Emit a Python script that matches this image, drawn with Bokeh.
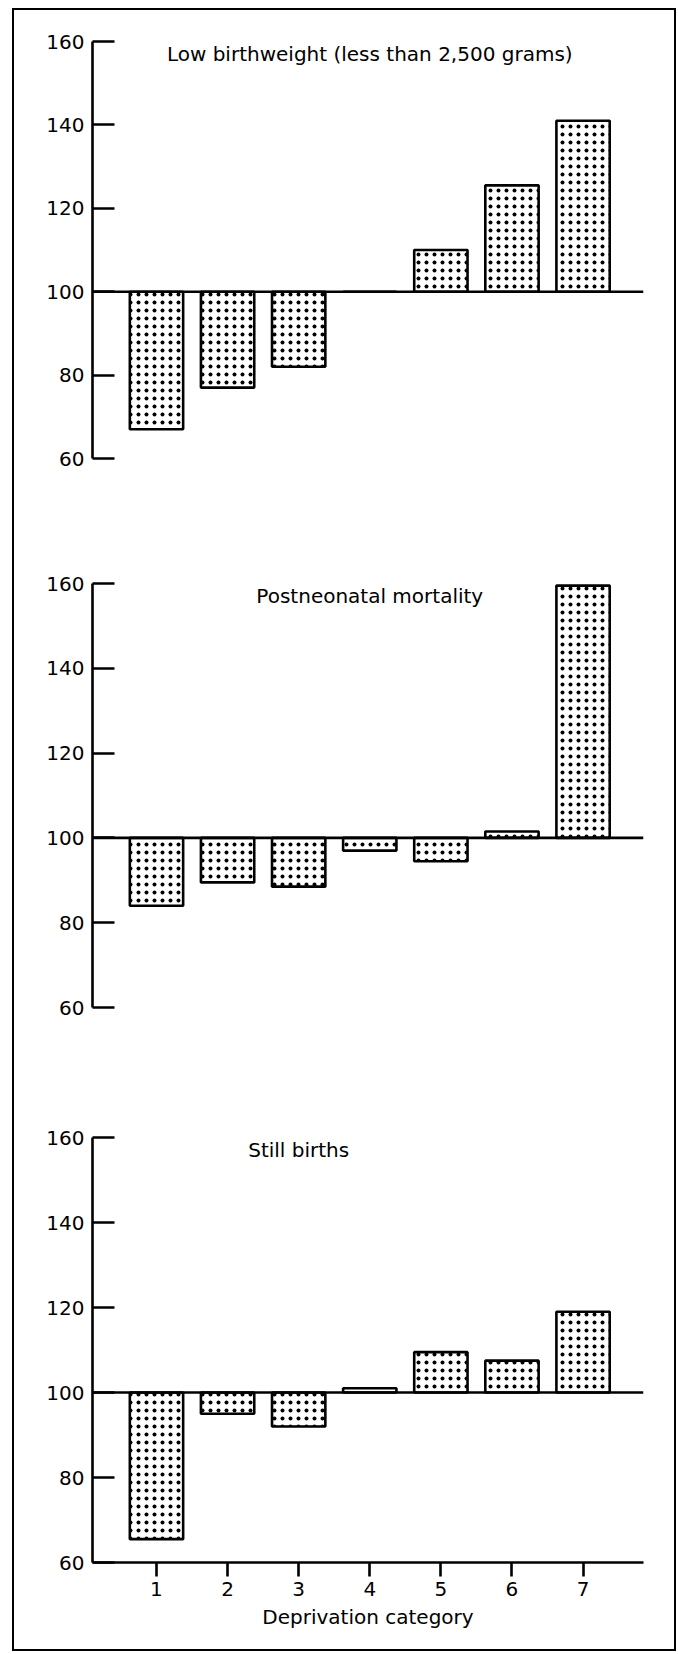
from bokeh.plotting import figure
from bokeh.layouts import column
from bokeh.models import Range1d, Span, Label, FixedTicker
from bokeh.embed import file_html
from bokeh.resources import INLINE

# ---- data ----
categories = [1, 2, 3, 4, 5, 6, 7]
y_ticks = [60, 80, 100, 120, 140, 160]
low_birthweight = [67, 77, 82, 100, 110, 125.5, 141]
postneonatal = [84, 89.5, 88.5, 97, 94.5, 101.5, 159.5]
still_births = [65.5, 95, 92, 101, 109.5, 107.5, 119]
panel_titles = ["Low birthweight (less than 2,500 grams)",
                "Postneonatal mortality",
                "Still births"]
x_axis_label = "Deprivation category"
baseline = 100

FONT = "DejaVu Sans"
FS = "20px"
LW = 2.6


def make_panel(values, title, title_x, height, b_top, b_bottom, b_left, b_right, show_x):
    p = figure(width=660, height=height,
               x_range=Range1d(0.1, 7.85), y_range=Range1d(60, 160),
               output_backend="svg", toolbar_location=None, title=None,
               x_axis_location="below" if show_x else None,
               min_border_top=b_top, min_border_bottom=b_bottom,
               min_border_left=b_left, min_border_right=b_right)
    p.outline_line_color = None
    p.xgrid.visible = False
    p.ygrid.visible = False
    p.background_fill_color = "white"
    p.border_fill_color = "white"

    p.vbar(x=categories, bottom=baseline, top=values, width=0.75,
           fill_color="white", line_color="black", line_width=LW,
           hatch_pattern="dot", hatch_color="black", hatch_scale=8,
           hatch_weight=1.5)
    p.add_layout(Span(location=baseline, dimension="width",
                      line_color="black", line_width=LW))

    yax = p.yaxis[0]
    yax.ticker = FixedTicker(ticks=y_ticks)
    yax.major_tick_in = 22
    yax.major_tick_out = 0
    yax.minor_tick_in = 0
    yax.minor_tick_out = 0
    yax.axis_line_width = LW
    yax.major_tick_line_width = LW
    yax.axis_line_color = "black"
    yax.major_tick_line_color = "black"
    yax.major_label_text_font = FONT
    yax.major_label_text_font_size = FS
    yax.major_label_text_color = "black"
    yax.major_label_standoff = 8

    if show_x:
        xax = p.xaxis[0]
        xax.ticker = FixedTicker(ticks=categories)
        xax.major_tick_in = 0
        xax.major_tick_out = 14
        xax.minor_tick_in = 0
        xax.minor_tick_out = 0
        xax.axis_line_width = LW
        xax.major_tick_line_width = LW
        xax.axis_line_color = "black"
        xax.major_tick_line_color = "black"
        xax.major_label_text_font = FONT
        xax.major_label_text_font_size = FS
        xax.major_label_text_color = "black"
        xax.major_label_standoff = 5
        xax.axis_label = x_axis_label
        xax.axis_label_text_font = FONT
        xax.axis_label_text_font_size = FS
        xax.axis_label_text_font_style = "normal"
        xax.axis_label_text_color = "black"
        xax.axis_label_standoff = 6

    p.add_layout(Label(x=title_x, y=157, text=title, text_align="center",
                       text_baseline="alphabetic", text_font=FONT,
                       text_font_size=FS, text_color="black"))
    return p


p1 = make_panel(low_birthweight, panel_titles[0], 4, 510, 31, 62, 78, 23, False)
p2 = make_panel(postneonatal, panel_titles[1], 4, 550, 63, 63, 78, 25, False)
p3 = make_panel(still_births, panel_titles[2], 3, 579, 67, 87, 72, 31, True)

layout = column(p1, p2, p3, spacing=0,
                styles={"border": "2px solid black", "margin-left": "12px",
                        "margin-top": "8px"})

open("out.html", "w").write(file_html(layout, INLINE))
